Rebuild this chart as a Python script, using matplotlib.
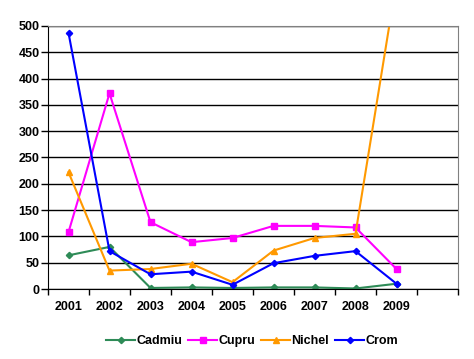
import matplotlib.pyplot as plt
import numpy as np

plt.rcParams["font.family"] = ["Liberation Sans", "DejaVu Sans"]

years = ["2001", "2002", "2003", "2004", "2005", "2006", "2007", "2008", "2009", ""]
cadmiu = [64, 80, 2, 3, 2, 3, 3, 1, 10]
cupru = [108, 372, 127, 89, 97, 120, 120, 117, 38]
nichel = [222, 35, 38, 48, 13, 73, 97, 105, 585]
crom = [487, 72, 28, 33, 8, 49, 63, 72, 10]

fig = plt.figure(figsize=(4.74, 3.59), dpi=100)
ax = fig.add_axes([48 / 474, 1 - 289 / 359, 410 / 474, 263 / 359])

x = np.arange(len(cadmiu))
ax.plot(x, cadmiu, color="#2E8B57", lw=1.5, marker="D", ms=3.2, label="Cadmiu")
ax.plot(x, cupru, color="#FF00FF", lw=1.5, marker="s", ms=4.2, label="Cupru")
ax.plot(x, nichel, color="#FF9900", lw=1.5, marker="^", ms=4.5, label="Nichel")
ax.plot(x, crom, color="#0000FF", lw=1.5, marker="D", ms=3.2, label="Crom")

ax.set_xlim(-0.5, len(years) - 0.5)
ax.set_ylim(0, 500)
ax.set_yticks(range(0, 501, 50))
ax.yaxis.grid(True, color="black", lw=1)
ax.set_axisbelow(True)

ax.set_xticks(np.arange(len(years)))
ax.set_xticklabels(years)
ax.set_xticks(np.arange(len(years) + 1) - 0.5, minor=True)
ax.tick_params(axis="x", which="major", length=0, pad=9)
ax.tick_params(axis="x", which="minor", length=4, width=1, color="black")
ax.tick_params(axis="y", length=5, width=1, color="black", pad=1)
for lab in ax.get_xticklabels() + ax.get_yticklabels():
    lab.set_fontsize(9)
    lab.set_fontweight("bold")

ax.spines["top"].set_color("gray")
ax.spines["right"].set_color("gray")
ax.spines["left"].set_color("black")
ax.spines["bottom"].set_color("black")

fig.legend(loc="center", bbox_to_anchor=(252 / 474, 1 - 341 / 359), ncol=4, frameon=False,
           prop={"size": 9, "weight": "bold"}, handlelength=2.3, handletextpad=0.1,
           columnspacing=0.5)

fig.savefig("out.png", dpi=100)
